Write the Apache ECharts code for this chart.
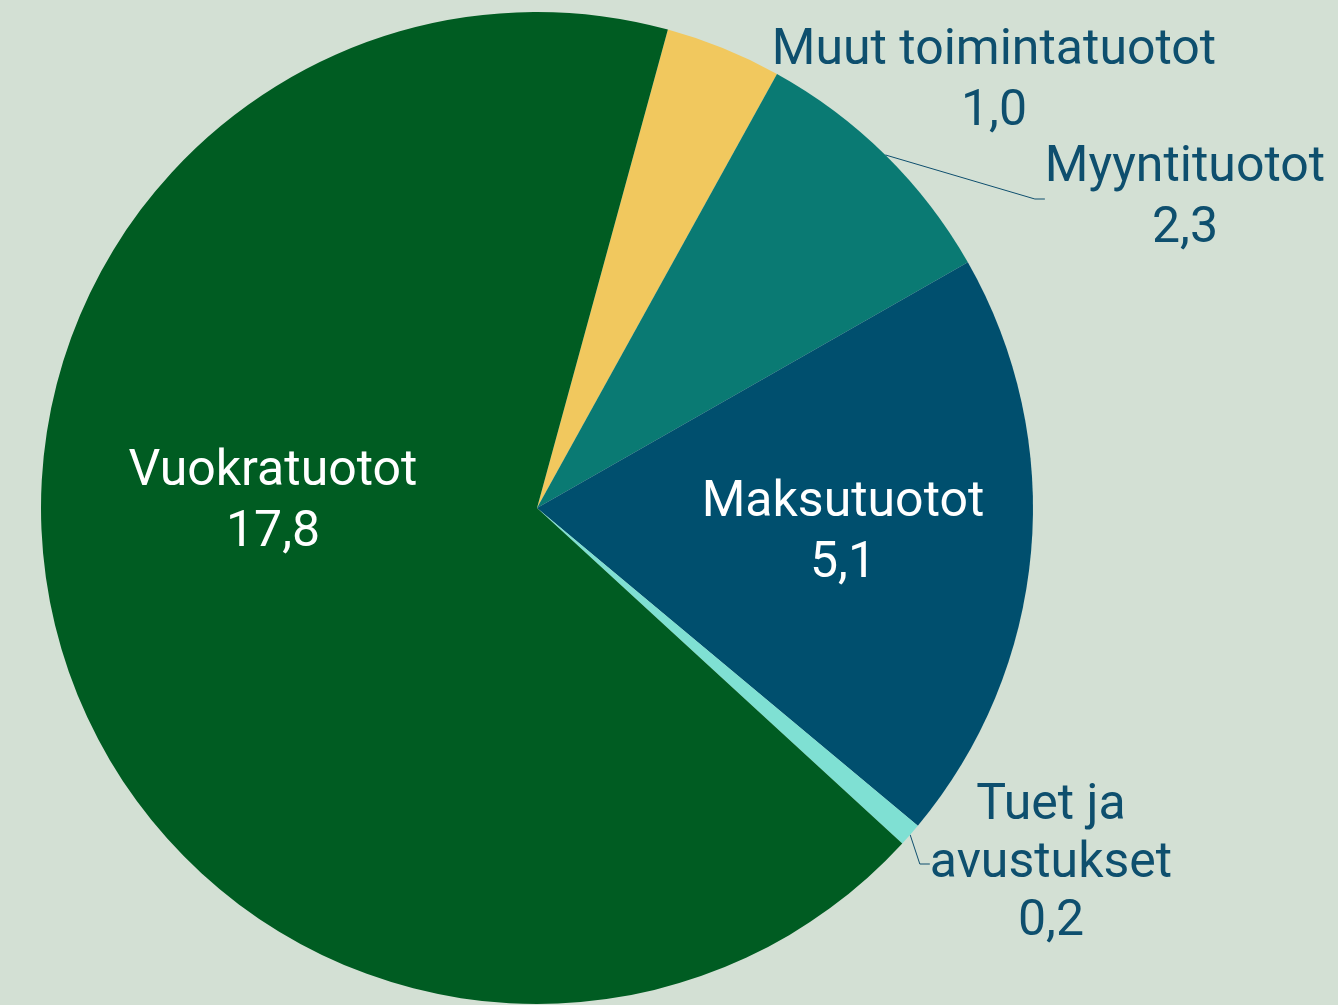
<!DOCTYPE html>
<html>
<head>
<meta charset="utf-8">
<title>Tuotot</title>
<script src="https://cdn.jsdelivr.net/npm/echarts@6/dist/echarts.min.js"></script>
<style>
  html, body { margin: 0; padding: 0; background: #d3e0d4; }
  #chart { width: 1338px; height: 1005px; }
</style>
</head>
<body>
<div id="chart"></div>
<script>
// data, clockwise from the yellow slice
const names = ['Muut toimintatuotot', 'Myyntituotot', 'Maksutuotot', 'Tuet ja avustukset', 'Vuokratuotot']
const labelNames = ['Muut toimintatuotot', 'Myyntituotot', 'Maksutuotot', 'Tuet ja\navustukset', 'Vuokratuotot']
const values = [1.0, 2.3, 5.1, 0.2, 17.8]
const colors = ['#f1c85e', '#0a7a73', '#004f6e', '#7fe0d3', '#005c22']

// label placement (center of text block) in px
const labelPos = [
  [994, 82],
  [1185, 199],
  [843, 534],
  [1051, 864],
  [273, 503]
]
const insideLabel = [false, false, true, false, true]
const showLine = [false, true, false, true, false]

const fmt = v => v.toFixed(1).replace('.', ',')

const chart = echarts.init(document.getElementById('chart'))

const data = names.map((n, i) => ({
  name: n,
  value: values[i],
  itemStyle: { color: colors[i] },
  label: {
    position: insideLabel[i] ? 'inside' : 'outside',
    color: insideLabel[i] ? '#ffffff' : '#0e4f6e',
    lineHeight: i === 3 ? 58 : 61
  },
  labelLine: { show: showLine[i] }
}))

chart.setOption({
  backgroundColor: '#d3e0d4',
  animation: false,
  series: [{
    type: 'pie',
    center: [537, 508],
    radius: [0, 496],
    startAngle: 74.7,
    clockwise: true,
    data: data,
    itemStyle: { borderWidth: 0 },
    label: {
      show: true,
      fontFamily: 'Roboto',
      fontSize: 50,
      align: 'center',
      overflow: 'none',
      formatter: p => labelNames[p.dataIndex] + '\n' + fmt(p.value)
    },
    labelLine: {
      length: 10,
      length2: 10,
      lineStyle: { color: '#0e4f6e', width: 1 }
    },
    labelLayout: params => ({
      x: labelPos[params.dataIndex][0],
      y: labelPos[params.dataIndex][1],
      align: 'center',
      verticalAlign: 'middle'
    })
  }]
})
</script>
</body>
</html>
